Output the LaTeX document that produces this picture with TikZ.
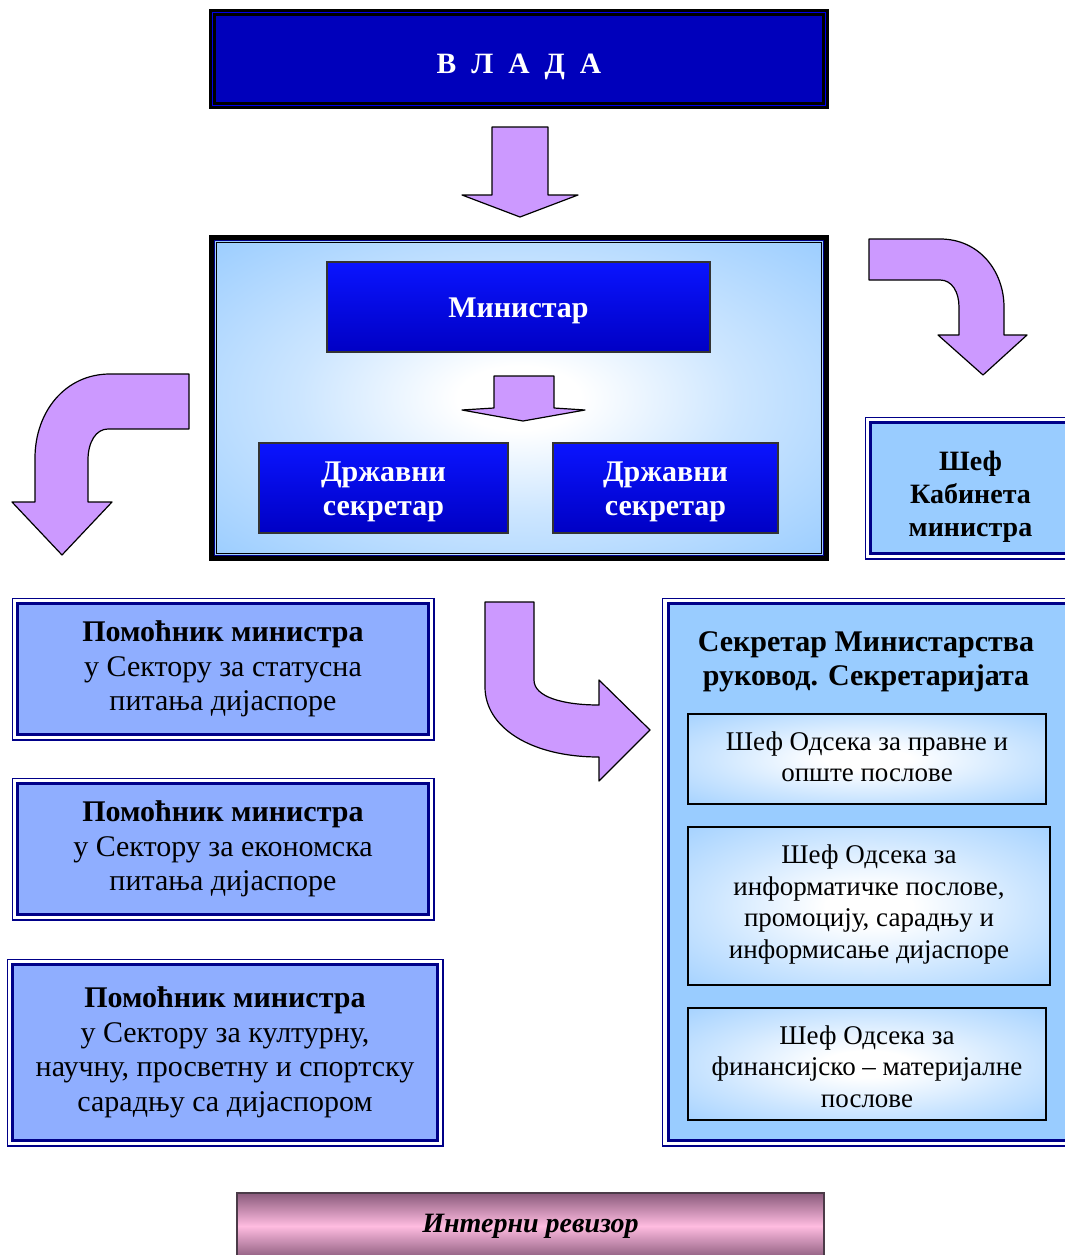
\documentclass[tikz,border=0pt]{standalone}
\usepackage{fontspec}
\setmainfont{Liberation Serif}
\usetikzlibrary{calc}
\definecolor{vladablue}{HTML}{0000BB}
\definecolor{skyb}{HTML}{99CCFF}
\definecolor{leftblue}{HTML}{8FAEFF}
\definecolor{navyf}{HTML}{000088}
\definecolor{arrowv}{HTML}{CC99FF}
\definecolor{btop}{HTML}{0A14FF}
\definecolor{bbot}{HTML}{0000C4}
\definecolor{pinkm}{HTML}{FFBCE0}
\definecolor{mauve}{HTML}{8A5A7C}
\definecolor{revframe}{HTML}{4B3B48}
\pgfdeclareradialshading{glow}{\pgfpoint{0bp}{0bp}}{color(0bp)=(white); color(5bp)=(white); color(18bp)=(skyb!50!white); color(36bp)=(skyb); color(50bp)=(skyb)}
\pgfdeclareradialshading{subglow}{\pgfpoint{0bp}{0bp}}{color(0bp)=(white); color(6bp)=(white); color(22bp)=(skyb!50!white); color(40bp)=(skyb); color(50bp)=(skyb)}
\tikzset{
  bigfont/.style={font=\fontsize{30}{34.5}\selectfont},
  subfont/.style={font=\fontsize{27}{31.5}\selectfont},
  varrow/.style={fill=arrowv, draw=black, line width=1.2pt, line join=round},
  blueboxes/.style={top color=btop, bottom color=bbot, draw=black!80, line width=1.2pt, inner sep=0pt},
  whitetext/.style={text=white, align=center, inner sep=0pt, font=\fontsize{30}{34.5}\selectfont\bfseries},
  dblbox/.style={fill=leftblue, draw=navyf, line width=3pt, align=center, inner sep=0pt, bigfont},
  thinframe/.style={draw=navyf, line width=1.3pt},
  subbox/.style={shading=subglow, draw=black, line width=1.2pt, align=center, inner sep=0pt, subfont},
}
\begin{document}
\begin{tikzpicture}[x=1pt,y=-1pt]
\useasboundingbox (0,0) rectangle (1065,1255);
\clip (0,0) rectangle (1065,1255);

% ----- VLADA
\node[fill=vladablue, draw=black, line width=6pt, minimum width=614, minimum height=94, inner sep=0pt] (vlada) at (519,59) {};
\draw[black, line width=1.5pt] ($(vlada.north west)+(6,6)$) rectangle ($(vlada.south east)+(-6,-6)$);
\draw[blue!70!vladablue, line width=1pt] ($(vlada.north west)+(3.8,3.8)$) rectangle ($(vlada.south east)+(-3.8,-3.8)$);
\node[whitetext, font=\fontsize{29.5}{33}\selectfont\bfseries, yshift=-8pt] (vladat) at (vlada.center)
      {В\hspace{15pt}Л\hspace{15pt}А\hspace{15pt}Д\hspace{15pt}А};

% ----- big ministry frame
\node[shading=glow, draw=black, line width=6pt, minimum width=614, minimum height=320, inner sep=0pt] (minbox) at (519,398) {};
\draw[navyf, line width=1.5pt] ($(minbox.north west)+(5.5,5.5)$) rectangle ($(minbox.south east)+(-5.5,-5.5)$);
\draw[black, line width=1pt] ($(minbox.north west)+(7.8,7.8)$) rectangle ($(minbox.south east)+(-7.8,-7.8)$);

\node[blueboxes, minimum width=383, minimum height=90] (ministar) at (518.5,307) {};
\node[whitetext, yshift=-4pt] (ministart) at (ministar.center) {Министар};
\node[blueboxes, minimum width=249, minimum height=90] (ds1) at (383.5,488) {};
\node[whitetext, yshift=-4pt] (ds1t) at (ds1.center) {Државни\\секретар};
\node[blueboxes, minimum width=225, minimum height=90] (ds2) at (665.5,488) {};
\node[whitetext, yshift=-4pt] (ds2t) at (ds2.center) {Државни\\секретар};

% ----- arrows
\draw[varrow] (492,127) -- (548,127) -- (548,195) -- (578,195) -- (520,217) -- (462,195) -- (492,195) -- cycle;
\draw[varrow] (494,376) -- (554,376) -- (554,408) -- (585,410) -- (523,421) -- (462,410) -- (494,408) -- cycle;
\draw[varrow] (869,239) -- (940,239) .. controls (980,239) and (1004,272) .. (1004,307)
   -- (1004,335) -- (1027,335) -- (983,375) -- (938,335) -- (959,335) -- (959,307)
   .. controls (959,292) and (952,280) .. (940,280) -- (869,280) -- cycle;
\draw[varrow] (189,374) -- (110,374) .. controls (65,374) and (35,412) .. (35,458)
   -- (35,502) -- (12,502) -- (62,555) -- (112,502) -- (88,502) -- (88,460)
   .. controls (88,442) and (96,429) .. (108,429) -- (189,429) -- cycle;
\draw[varrow] (485,602) -- (534,602) -- (534,680) .. controls (534,697) and (563,705) .. (599,705)
   -- (599,680) -- (650,730) -- (599,781) -- (599,757)
   .. controls (530,757) and (485,727) .. (485,687) -- cycle;

% ----- Kabinet
\node[dblbox, fill=skyb, minimum width=200, minimum height=131] (kab) at (970.5,488) {};
\draw[thinframe] ($(kab.north west)+(-3.85,-3.85)$) rectangle ($(kab.south east)+(3.85,3.85)$);
\node[align=center, inner sep=0pt, font=\fontsize{28}{33}\selectfont\bfseries, yshift=-9pt] (kabt) at (kab.center) {Шеф\\Кабинета\\министра};

% ----- left assistant boxes
\node[dblbox, minimum width=411, minimum height=131] (pa) at (223,669)
  {{\bfseries Помоћник министра}\\у Сектору за статусна\\питања дијаспоре};
\draw[thinframe] ($(pa.north west)+(-3.85,-3.85)$) rectangle ($(pa.south east)+(3.85,3.85)$);
\node[dblbox, minimum width=411, minimum height=131] (pb) at (223,849)
  {{\bfseries Помоћник министра}\\у Сектору за економска\\питања дијаспоре};
\draw[thinframe] ($(pb.north west)+(-3.85,-3.85)$) rectangle ($(pb.south east)+(3.85,3.85)$);
\node[dblbox, minimum width=425, minimum height=176] (pc) at (225,1052.5)
  {{\bfseries Помоћник министра}\\у Сектору за културну,\\научну, просветну и спортску\\сарадњу са дијаспором};
\draw[thinframe] ($(pc.north west)+(-3.85,-3.85)$) rectangle ($(pc.south east)+(3.85,3.85)$);

% ----- secretary box
\node[dblbox, fill=skyb, minimum width=402, minimum height=537] (sekr) at (869,872) {};
\draw[thinframe] ($(sekr.north west)+(-3.85,-3.85)$) rectangle ($(sekr.south east)+(3.85,3.85)$);
\node[align=center, inner sep=0pt, font=\fontsize{30}{34.5}\selectfont\bfseries] (sekrt) at (866,662)
  {Секретар Министарства\\руковод. Секретаријата};
\node[subbox, minimum width=358, minimum height=90] (s1) at (867,759) {};
\node[align=center, inner sep=0pt, subfont, yshift=2pt] (s1t) at (s1.center) {Шеф Одсека за правне и\\опште послове};
\node[subbox, minimum width=362, minimum height=158] (s2) at (869,906) {};
\node[align=center, inner sep=0pt, subfont, yshift=1.5pt] (s2t) at (s2.center) {Шеф Одсека за\\информатичке послове,\\промоцију, сарадњу и\\информисање дијаспоре};
\node[subbox, minimum width=358, minimum height=112] (s3) at (867,1064) {};
\node[align=center, inner sep=0pt, subfont, yshift=-2.5pt] (s3t) at (s3.center) {Шеф Одсека за\\финансијско – материјалне\\послове};

% ----- internal auditor
\node[top color=mauve, bottom color=mauve, middle color=pinkm, draw=revframe, line width=1.5pt,
      minimum width=587, minimum height=66, inner sep=0pt,
      font=\fontsize{28}{32}\selectfont\bfseries\itshape] (rev) at (530.5,1226) {Интерни ревизор};
\end{tikzpicture}
\end{document}
